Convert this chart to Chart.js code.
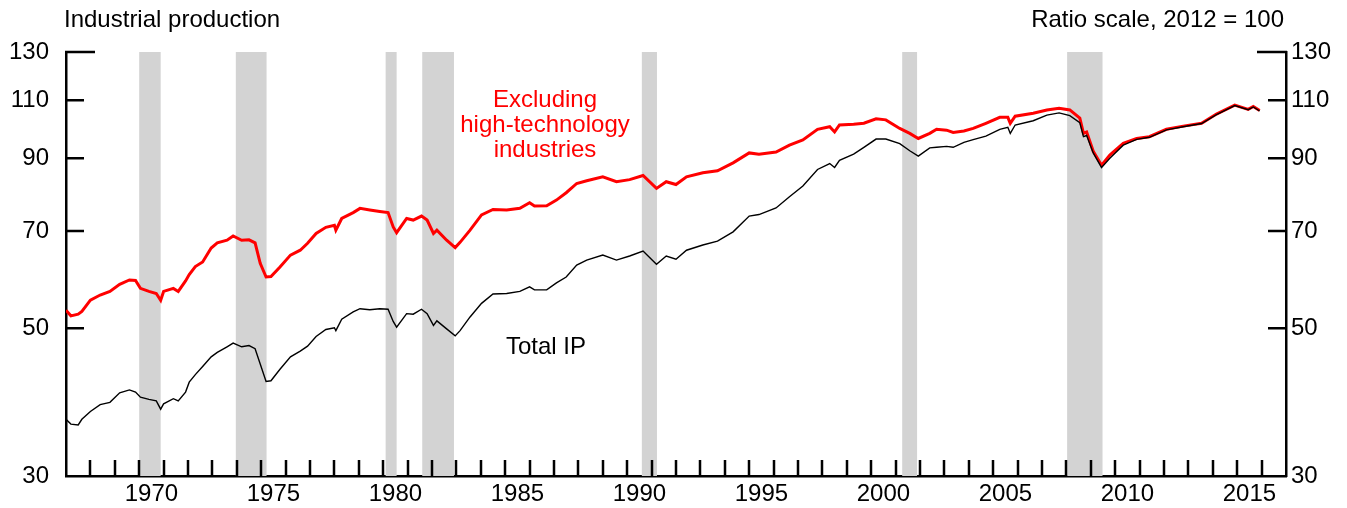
<!DOCTYPE html>
<html>
<head>
<meta charset="utf-8">
<script src="https://cdn.jsdelivr.net/npm/chart.js@4/dist/chart.umd.min.js"></script>
<style>
  html, body { margin: 0; padding: 0; background: #fff; }
  #wrap { width: 1347px; height: 508px; }
</style>
</head>
<body>
<div id="wrap"><canvas id="c" width="1347" height="508"></canvas></div>
<script>
// ---- Data ----
const years = [
  1967.0, 1967.2, 1967.5, 1967.65, 1968.0, 1968.4, 1968.8, 1969.2, 1969.6, 1969.85,
  1970.05, 1970.4, 1970.7, 1970.88, 1971.0, 1971.4, 1971.6, 1971.9, 1972.05, 1972.3,
  1972.6, 1972.95, 1973.2, 1973.6, 1973.85, 1974.2, 1974.5, 1974.75, 1974.96, 1975.2,
  1975.4, 1975.77, 1976.2, 1976.6, 1976.9, 1977.25, 1977.65, 1978.0, 1978.06, 1978.3,
  1978.77, 1979.05, 1979.45, 1979.86, 1980.2, 1980.41, 1980.55, 1980.96, 1981.23, 1981.57,
  1981.8, 1982.06, 1982.2, 1982.6, 1982.95, 1983.15, 1983.56, 1984.03, 1984.5, 1985.06,
  1985.6, 1986.0, 1986.2, 1986.7, 1987.1, 1987.5, 1987.93, 1988.34, 1989.0, 1989.56,
  1990.1, 1990.65, 1991.2, 1991.6, 1992.0, 1992.43, 1993.1, 1993.7, 1994.34, 1995.0,
  1995.4, 1996.1, 1996.65, 1997.2, 1997.8, 1998.3, 1998.5, 1998.7, 1999.28, 1999.7,
  2000.2, 2000.6, 2001.17, 2001.58, 2001.93, 2002.4, 2002.68, 2003.09, 2003.36, 2003.8,
  2004.18, 2004.7, 2005.27, 2005.6, 2005.7, 2005.9, 2006.64, 2007.2, 2007.7, 2008.14,
  2008.55, 2008.7, 2008.83, 2009.1, 2009.44, 2009.78, 2010.33, 2010.88, 2011.4, 2012.1,
  2012.79, 2013.54, 2014.15, 2014.9, 2015.45, 2015.66, 2015.92
];
const excludingHighTech = [
  53.2, 52.2, 52.5, 53.0, 55.1, 56.1, 56.8, 58.2, 59.1, 59.0,
  57.4, 56.8, 56.4, 55.1, 56.8, 57.4, 56.8, 58.9, 60.2, 61.9,
  62.9, 66.0, 67.2, 67.8, 68.8, 67.8, 67.9, 67.2, 62.6, 59.7,
  59.8, 61.8, 64.4, 65.5, 67.1, 69.4, 70.9, 71.4, 70.2, 73.1,
  74.6, 75.7, 75.3, 74.9, 74.6, 71.0, 69.6, 73.1, 72.7, 73.7,
  72.7, 69.4, 70.2, 67.8, 66.1, 67.3, 70.2, 74.0, 75.4, 75.3,
  75.7, 77.2, 76.3, 76.4, 77.9, 79.9, 82.5, 83.3, 84.4, 83.0,
  83.6, 84.8, 81.1, 83.0, 82.2, 84.4, 85.6, 86.2, 88.6, 91.7,
  91.3, 92.0, 94.2, 95.9, 99.5, 100.4, 98.6, 101.0, 101.3, 101.6,
  103.2, 102.8, 99.8, 98.1, 96.4, 98.1, 99.5, 99.2, 98.4, 98.9,
  99.8, 101.6, 103.7, 103.7, 101.6, 104.1, 105.2, 106.4, 107.0, 106.4,
  103.4, 98.1, 98.6, 92.2, 87.9, 91.0, 94.8, 96.4, 97.0, 99.5,
  100.6, 101.6, 104.9, 108.2, 106.6, 107.7, 106.2
];
const totalIP = [
  36.5, 35.9, 35.8, 36.5, 37.5, 38.4, 38.7, 40.0, 40.4, 40.1,
  39.4, 39.1, 38.9, 37.8, 38.5, 39.2, 38.9, 40.1, 41.5, 42.6,
  43.8, 45.3, 46.0, 46.9, 47.5, 46.9, 47.1, 46.6, 44.2, 41.6,
  41.7, 43.4, 45.3, 46.2, 47.0, 48.6, 49.8, 50.1, 49.6, 51.6,
  52.9, 53.5, 53.3, 53.5, 53.4, 51.2, 50.2, 52.6, 52.5, 53.4,
  52.6, 50.5, 51.3, 49.9, 48.7, 49.6, 52.0, 54.5, 56.3, 56.4,
  56.8, 57.7, 57.1, 57.1, 58.5, 59.7, 62.2, 63.3, 64.4, 63.3,
  64.2, 65.3, 62.4, 64.2, 63.5, 65.5, 66.7, 67.6, 69.8, 73.7,
  74.1, 75.8, 78.8, 81.8, 86.6, 88.4, 87.2, 89.4, 91.3, 93.5,
  96.2, 96.2, 94.7, 92.4, 90.7, 93.3, 93.5, 93.8, 93.5, 95.1,
  96.0, 97.2, 99.5, 100.2, 98.1, 101.0, 102.5, 104.5, 105.3, 104.3,
  101.8, 97.0, 97.4, 91.7, 87.2, 90.0, 94.2, 96.1, 96.8, 99.3,
  100.4, 101.5, 104.7, 108.0, 106.5, 107.5, 106.0
];
// Recession periods (start, end in decimal years)
const recessionStarts = [1970.0, 1973.96, 1980.1, 1981.6, 1990.6, 2001.27, 2008.03];
const recessionEnds   = [1970.88, 1975.22, 1980.55, 1982.9, 1991.22, 2001.88, 2009.48];
// Axis ticks
const yTickValues = [30, 50, 70, 90, 110, 130];
const xLabelYears = [1970, 1975, 1980, 1985, 1990, 1995, 2000, 2005, 2010, 2015];
const xMinorYears = [];
for (let y = 1968; y <= 2016; y++) xMinorYears.push(y);
const xMin = 1967, xMax = 2017, yMin = 30, yMax = 130;

const FONT = "'Liberation Sans', Arial, Helvetica, sans-serif";

const decor = {
  id: 'decor',
  beforeDatasetsDraw(chart) {
    const { ctx, chartArea, scales } = chart;
    ctx.save();
    ctx.fillStyle = '#d3d3d3';
    for (let i = 0; i < recessionStarts.length; i++) {
      const x0 = scales.x.getPixelForValue(recessionStarts[i]);
      const x1 = scales.x.getPixelForValue(recessionEnds[i]);
      ctx.fillRect(x0, chartArea.top, x1 - x0, chartArea.bottom - chartArea.top);
    }
    ctx.restore();
  },
  afterDraw(chart) {
    const { ctx, chartArea, scales } = chart;
    ctx.save();
    ctx.strokeStyle = '#000';
    ctx.lineWidth = 2.5;
    ctx.lineCap = 'butt';
    // inner x ticks
    ctx.beginPath();
    xMinorYears.forEach(yr => {
      const px = Math.round(scales.x.getPixelForValue(yr));
      ctx.moveTo(px, chartArea.bottom);
      ctx.lineTo(px, chartArea.bottom - 16);
    });
    ctx.stroke();
    // inner y ticks (left and right)
    ctx.beginPath();
    yTickValues.forEach(v => {
      if (v === yMin) return;
      const py = scales.y.getPixelForValue(v);
      const len = v === yMax ? 29 : 18;
      ctx.moveTo(chartArea.left - 1, py);
      ctx.lineTo(chartArea.left + len, py);
      ctx.moveTo(chartArea.right + 1, py);
      ctx.lineTo(chartArea.right - len, py);
    });
    ctx.stroke();
    // texts
    ctx.font = '24px ' + FONT;
    ctx.fillStyle = '#000';
    ctx.textBaseline = 'alphabetic';
    ctx.textAlign = 'left';
    ctx.fillText('Industrial production', 64, 27);
    ctx.textAlign = 'right';
    ctx.fillText('Ratio scale, 2012 = 100', 1284, 27);
    ctx.textAlign = 'center';
    ctx.fillText('Total IP', 546, 354);
    ctx.fillStyle = '#ff0000';
    ctx.fillText('Excluding', 545, 107);
    ctx.fillText('high-technology', 545, 132);
    ctx.fillText('industries', 545, 157);
    ctx.restore();
  }
};

const yAxisCommon = {
  type: 'logarithmic',
  min: yMin,
  max: yMax,
  afterBuildTicks(scale) { scale.ticks = yTickValues.map(v => ({ value: v })); },
  grid: { display: false, drawTicks: false },
  border: { display: true, color: '#000', width: 2.5 },
  ticks: {
    color: '#000',
    font: { family: FONT, size: 24 },
    callback: v => String(v),
    autoSkip: false
  }
};

new Chart(document.getElementById('c'), {
  type: 'line',
  data: {
    datasets: [
      {
        label: 'Total IP',
        data: years.map((x, i) => ({ x, y: totalIP[i] })),
        borderColor: '#000000',
        borderWidth: 1.4,
        pointRadius: 0,
        tension: 0,
        fill: false
      },
      {
        label: 'Excluding high-technology industries',
        data: years.map((x, i) => ({ x, y: excludingHighTech[i] })),
        borderColor: '#ff0000',
        borderWidth: 3,
        pointRadius: 0,
        tension: 0,
        fill: false
      }
    ]
  },
  options: {
    responsive: false,
    animation: false,
    devicePixelRatio: 1,
    layout: { padding: { top: 52, left: 0, right: 0, bottom: 0 } },
    plugins: { legend: { display: false }, tooltip: { enabled: false }, title: { display: false } },
    scales: {
      x: {
        type: 'linear',
        min: xMin,
        max: xMax,
        afterBuildTicks(scale) { scale.ticks = xLabelYears.map(v => ({ value: v + 0.5 })); },
        afterFit(scale) { scale.height = 32; },
        grid: { display: false, drawTicks: false },
        border: { display: true, color: '#000', width: 2.5 },
        ticks: {
          color: '#000',
          font: { family: FONT, size: 24 },
          padding: 4,
          maxRotation: 0,
          autoSkip: false,
          callback: v => String(Math.floor(v))
        }
      },
      y: Object.assign({}, yAxisCommon, {
        position: 'left',
        afterFit(scale) { scale.width = 66; },
        ticks: Object.assign({}, yAxisCommon.ticks, { padding: 17 })
      }),
      y2: Object.assign({}, yAxisCommon, {
        position: 'right',
        afterFit(scale) { scale.width = 1347 - 1286; },
        ticks: Object.assign({}, yAxisCommon.ticks, { padding: 5 })
      })
    }
  },
  plugins: [decor]
});
</script>
</body>
</html>
